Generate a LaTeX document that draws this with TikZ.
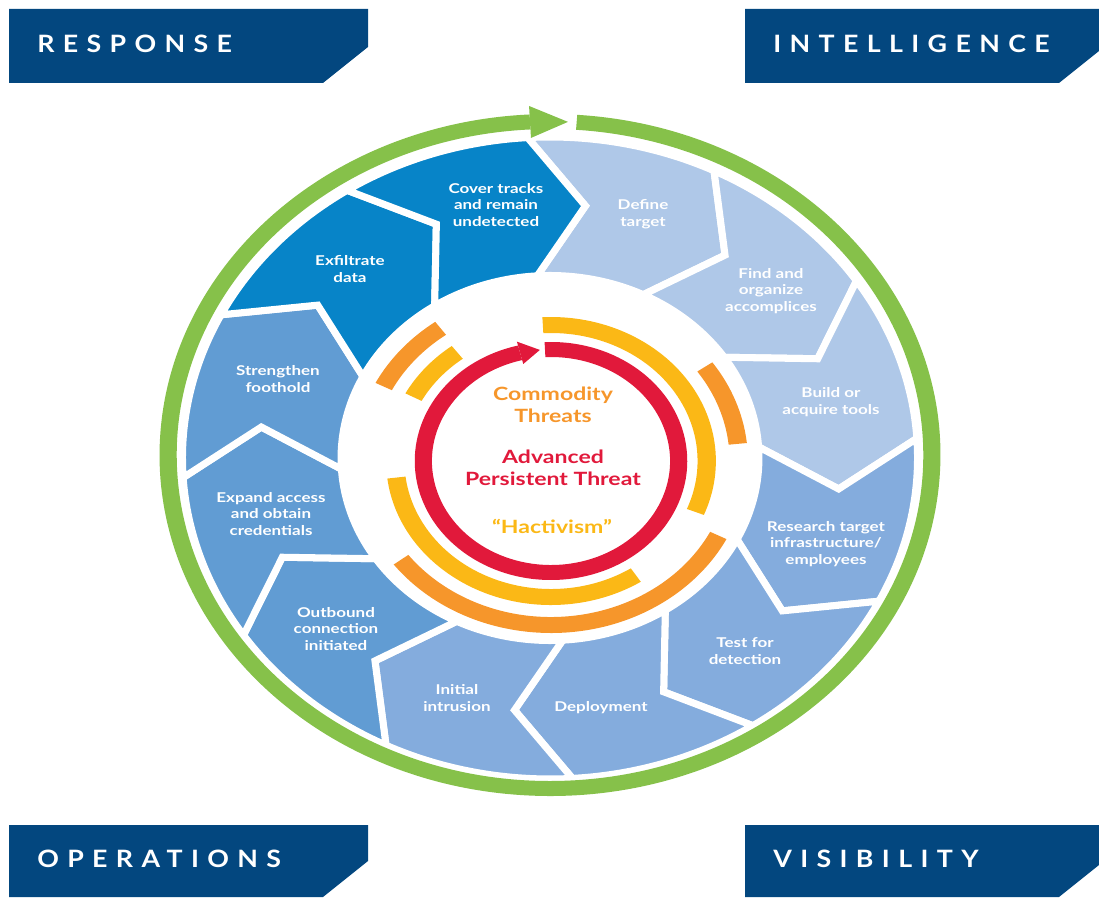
\documentclass[tikz,border=0pt]{standalone}
\usepackage{fontspec}
\setmainfont{Lato}[FakeStretch=1.26]
\newfontfamily\bannerfont[LetterSpace=35, FakeStretch=1.12]{Lato}
\usepackage{tikz}
\definecolor{navy}{HTML}{03477F}
\definecolor{ringgreen}{HTML}{86C14A}
\definecolor{aptred}{HTML}{E1193B}
\definecolor{hackyellow}{HTML}{FBB816}
\definecolor{commorange}{HTML}{F6962B}
\definecolor{stagedark}{HTML}{0784C8}
\definecolor{stagemid}{HTML}{619CD3}
\definecolor{stagelight}{HTML}{84ACDD}
\definecolor{stagepale}{HTML}{AFC8E8}
\tikzset{
  banner/.style={fill=navy, draw=none},
  bannertext/.style={font=\bannerfont\bfseries\fontsize{17}{17}\selectfont, text=white, anchor=west, inner sep=0pt},
  stage/.style={draw=white, line width=5pt, line join=miter},
  stagetext/.style={font=\bfseries\fontsize{9.6}{11.7}\selectfont, text=white, align=center, inner sep=0pt},
  coretext/.style={font=\bfseries\fontsize{13}{15.5}\selectfont, align=center, inner sep=0pt},
}
\def\xs{1.145}
\def\Rout{321}
\def\Rmid{254}
\def\Rin{182.5}

\begin{document}
\begin{tikzpicture}[x=0.025cm, y=0.025cm]
  \useasboundingbox (0,0) rectangle (1099,897);

  % corner banners
  \fill[banner] (9,888) -- (368,888) -- (368,850) -- (323,814) -- (9,814) -- cycle;
  \fill[banner] (745,888) -- (1104,888) -- (1104,850) -- (1059,814) -- (745,814) -- cycle;
  \fill[banner] (9,72) -- (368,72) -- (368,36) -- (323,0) -- (9,0) -- cycle;
  \fill[banner] (745,72) -- (1104,72) -- (1104,36) -- (1059,0) -- (745,0) -- cycle;
  \node[bannertext] (response) at (37,853.5) {RESPONSE};
  \node[bannertext] (intel) at (773,853.5) {INTELLIGENCE};
  \node[bannertext] (ops) at (37,38) {OPERATIONS};
  \node[bannertext] (vis) at (773,38) {VISIBILITY};

  % stage chevrons
  \begin{scope}[shift={(550,439)}, xscale=\xs]
    \foreach \j/\col in {0/stagepale, 1/stagepale, 2/stagepale, 3/stagelight,
                         4/stagelight, 5/stagelight, 6/stagelight, 7/stagemid,
                         8/stagemid, 9/stagemid, 10/stagedark, 11/stagedark} {
      \pgfmathsetmacro\ba{93.5-30*\j}
      \pgfmathsetmacro\bb{\ba-30}
      \pgfmathsetmacro\ta{\ba-10.5}
      \pgfmathsetmacro\tb{\bb-10.5}
      \filldraw[stage, fill=\col] (\ba:\Rout) arc[start angle=\ba, end angle=\bb, radius=\Rout]
          -- (\tb:\Rmid) -- (\bb:\Rin) arc[start angle=\bb, end angle=\ba, radius=\Rin]
          -- (\ta:\Rmid) -- cycle;
    }
  \end{scope}

  % outer green cycle arrow
  \begin{scope}[shift={(550,442)}, xscale=\xs]
    \fill[ringgreen] (86:341) arc[start angle=86, end angle=-267, radius=341]
        -- (-267:326) arc[start angle=-267, end angle=86, radius=326] -- cycle;
    \fill[ringgreen] (93:317.5) -- (93:349.5) -- (87.3:333.5) -- cycle;
  \end{scope}

  % threat rings
  \begin{scope}[shift={(551,436)}, xscale=\xs]
    \fill[aptred] (92.7:119) arc[start angle=92.7, end angle=-256, radius=119]
        -- (-256:104) arc[start angle=-256, end angle=92.7, radius=104] -- cycle;
    \fill[aptred] (104:100) -- (104:123) -- (95:111.5) -- cycle;
    \foreach \s/\e in {93/-22, 187/303, 127/152}
      \fill[hackyellow] (\s:144) arc[start angle=\s, end angle=\e, radius=144]
          -- (\e:128) arc[start angle=\e, end angle=\s, radius=128] -- cycle;
    \foreach \s/\e in {6/35, 217/333, 126/153}
      \fill[commorange] (\s:172) arc[start angle=\s, end angle=\e, radius=172]
          -- (\e:156) arc[start angle=\e, end angle=\s, radius=156] -- cycle;
  \end{scope}

  \node[stagetext] (define) at (643,683) {Define\\target};
  \node[stagetext] (find) at (771,606) {Find and\\organize\\accomplices};
  \node[stagetext] (build) at (831,495) {Build or\\acquire tools};
  \node[stagetext] (research) at (826,353) {Research target\\infrastructure/\\employees};
  \node[stagetext] (testdet) at (745,246) {Test for\\detection};
  \node[stagetext] (deploy) at (601,189) {Deployment};
  \node[stagetext] (initial) at (457,199) {Initial\\intrusion};
  \node[stagetext] (outbound) at (336,268) {Outbound\\connection\\initiated};
  \node[stagetext] (expand) at (271,383) {Expand access\\and obtain\\credentials};
  \node[stagetext] (strengthen) at (278,518) {Strengthen\\foothold};
  \node[stagetext] (exfil) at (350,628) {Exfiltrate\\data};
  \node[stagetext] (cover) at (496,692) {Cover tracks\\and remain\\undetected};

  \node[coretext, text=commorange] (commodity) at (553,492) {Commodity\\Threats};
  \node[coretext, text=aptred] (apt) at (553,429) {Advanced\\Persistent Threat};
  \node[coretext, text=hackyellow] (hack) at (552,371) {“Hactivism”};

\end{tikzpicture}
\end{document}
